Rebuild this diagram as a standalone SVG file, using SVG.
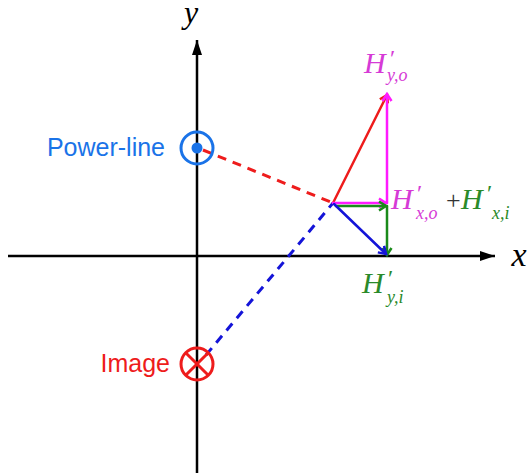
<svg xmlns="http://www.w3.org/2000/svg" width="527" height="475" viewBox="0 0 527 475">
<defs>
<style>
.axis{stroke:#000;stroke-width:2.5;fill:none}
.vec{stroke-width:2.5;fill:none;stroke-linecap:round}
.dash{stroke-width:3;fill:none;stroke-dasharray:9 7}
.lbl{font-family:"Liberation Sans",Arial,sans-serif;font-size:25px}
.math{font-family:"Liberation Serif","Times New Roman",serif;font-style:italic}
.H{font-size:30px}
.sub{font-size:18px}
.pr{font-size:24px;font-style:normal}
</style>
<marker id="axHead" markerUnits="userSpaceOnUse" markerWidth="16" markerHeight="12" refX="15" refY="6" orient="auto">
<path d="M0,1 L15,6 L0,11 Z" fill="#000"/>
</marker>
<marker id="mRed" markerUnits="userSpaceOnUse" markerWidth="12" markerHeight="12" refX="9" refY="6" orient="auto">
<path d="M2,1.5 L9,6 L2,10.5" fill="none" stroke="#ee1c1c" stroke-width="2.5"/>
</marker>
<marker id="mMag" markerUnits="userSpaceOnUse" markerWidth="12" markerHeight="12" refX="9" refY="6" orient="auto">
<path d="M2,1.5 L9,6 L2,10.5" fill="none" stroke="#ff1aff" stroke-width="2.5"/>
</marker>
<marker id="mGrn" markerUnits="userSpaceOnUse" markerWidth="12" markerHeight="12" refX="9" refY="6" orient="auto">
<path d="M2,1.5 L9,6 L2,10.5" fill="none" stroke="#1a8a1a" stroke-width="2.5"/>
</marker>
<marker id="mBlu" markerUnits="userSpaceOnUse" markerWidth="12" markerHeight="12" refX="9" refY="6" orient="auto">
<path d="M2,1.5 L9,6 L2,10.5" fill="none" stroke="#1414d8" stroke-width="2.5"/>
</marker>
</defs>
<rect width="527" height="475" fill="#fff"/>
<g id="axes">
<line class="axis" x1="197" y1="473" x2="197" y2="40" marker-end="url(#axHead)"/>
<line class="axis" x1="8" y1="256" x2="495" y2="256" marker-end="url(#axHead)"/>
<text class="math" x="191" y="23" font-size="32" text-anchor="middle">y</text>
<text class="math" x="519" y="266" font-size="34" text-anchor="middle">x</text>
</g>
<g id="connectors">
<line class="dash" x1="203" y1="150" x2="333" y2="203" stroke="#ee1c1c"/>
<line class="dash" x1="206" y1="355" x2="333" y2="203" stroke="#1414d8"/>
<line class="vec" x1="333" y1="203" x2="387" y2="95" stroke="#ee1c1c" marker-end="url(#mRed)"/>
<line class="vec" x1="387" y1="203" x2="387" y2="94" stroke="#ff1aff" marker-end="url(#mMag)"/>
<line class="vec" x1="333" y1="203" x2="386" y2="203" stroke="#ff1aff" marker-end="url(#mMag)"/>
<line class="vec" x1="336" y1="206" x2="386" y2="206" stroke="#1a8a1a" marker-end="url(#mGrn)"/>
<line class="vec" x1="387" y1="206" x2="387" y2="255" stroke="#1a8a1a" marker-end="url(#mGrn)"/>
<line class="vec" x1="334" y1="204" x2="386" y2="254" stroke="#1414d8" marker-end="url(#mBlu)"/>
</g>
<g id="powerline">
<circle cx="197" cy="148" r="16" fill="none" stroke="#1a73e8" stroke-width="3"/>
<circle cx="197" cy="148" r="5.5" fill="#1a73e8"/>
<text class="lbl" x="165" y="156" text-anchor="end" fill="#1a73e8">Power-line</text>
</g>
<g id="image">
<circle cx="197" cy="364" r="16" fill="none" stroke="#ee1c1c" stroke-width="3"/>
<line x1="185.7" y1="352.7" x2="208.3" y2="375.3" stroke="#ee1c1c" stroke-width="3"/>
<line x1="208.3" y1="352.7" x2="185.7" y2="375.3" stroke="#ee1c1c" stroke-width="3"/>
<text class="lbl" x="170" y="372" text-anchor="end" fill="#ee1c1c">Image</text>
</g>
<g id="label-Hyo">
<text class="math H" x="364" y="73" fill="#d63ad6">H<tspan class="pr" x="390" y="66">′</tspan><tspan class="sub" x="387" y="81">y,o</tspan></text>
</g>
<g id="label-Hxo-Hxi">
<text class="math H" x="391" y="209" fill="#d63ad6">H<tspan class="pr" x="417" y="201">′</tspan><tspan class="sub" x="416" y="219">x,o</tspan><tspan x="446" y="209" font-size="26" font-style="normal" fill="#333">+</tspan><tspan x="461" y="209" fill="#2a8a2a">H</tspan><tspan class="pr" x="487" y="201" fill="#2a8a2a">′</tspan><tspan class="sub" x="492" y="219" fill="#2a8a2a">x,i</tspan></text>
</g>
<g id="label-Hyi">
<text class="math H" x="362" y="293" fill="#2a8a2a">H<tspan class="pr" x="388" y="286">′</tspan><tspan class="sub" x="387" y="303">y,i</tspan></text>
</g>
</svg>
